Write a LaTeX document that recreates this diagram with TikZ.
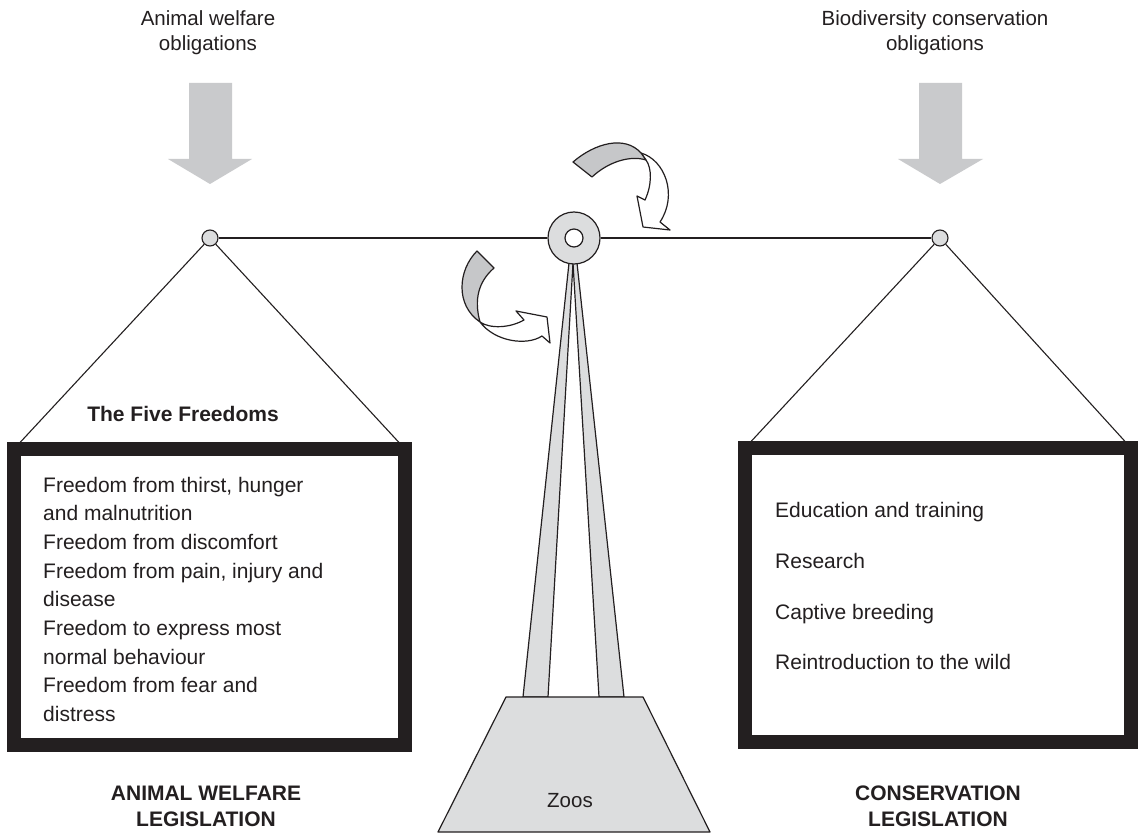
\documentclass[tikz,border=0pt]{standalone}
\usepackage{fontspec}
\setmainfont{Liberation Sans}
\definecolor{ink}{HTML}{231F20}
\definecolor{arrowgray}{HTML}{C9CACC}
\definecolor{partgray}{HTML}{DCDDDE}
\definecolor{ribbongray}{HTML}{C6C7C9}

\begin{document}
\begin{tikzpicture}[x=1pt, y=-1pt, line join=round,
  thinline/.style={draw=ink, line width=1.1pt},
  outline/.style={draw=ink, line width=1.2pt},
  hinge/.style={circle, draw=ink, line width=1.1pt, fill=partgray, minimum size=16pt, inner sep=0pt},
  panel/.style={rectangle, draw=ink, line width=14pt, line join=miter, fill=white, inner sep=0pt, outer sep=0pt, anchor=north west},
  body/.style={font=\fontsize{21}{25}\selectfont, text=ink, anchor=base west, inner sep=0pt},
  heading/.style={font=\bfseries\fontsize{21}{25}\selectfont, text=ink, anchor=base, inner sep=0pt},
  caption/.style={font=\fontsize{20.5}{25}\selectfont, text=ink, anchor=base, inner sep=0pt},
  load/.style={fill=arrowgray},
]
\useasboundingbox[fill=white] (0,0) rectangle (1138,834);

% weights pressing on the two pans
\fill[load] (189,83) -- (232,83) -- (232,159) -- (252,159) -- (210,184) -- (168,159) -- (189,159) -- cycle;
\fill[load] (919,83) -- (962,83) -- (962,159) -- (983,159) -- (940,184) -- (898,159) -- (919,159) -- cycle;

\node[caption] (lcap1) at (208,26) {Animal welfare};
\node[caption] (lcap2) at (208,51) {obligations};
\node[caption] (rcap1) at (935,26) {Biodiversity conservation};
\node[caption] (rcap2) at (935,51) {obligations};

% stand: two tapering legs on a trapezoid foot
\draw[outline, fill=partgray] (569,263) -- (573,263) -- (548,697) -- (523,697) -- cycle;
\draw[outline, fill=partgray] (573,263) -- (577,263) -- (624,697) -- (599,697) -- cycle;
\draw[outline, fill=partgray] (506,697) -- (643,697) -- (710,832) -- (438,832) -- cycle;
\node[caption] (zoos) at (570,807) {Zoos};

% the two pans
\node[panel, minimum width=391pt, minimum height=296pt] (lbox) at (14,449) {};
\node[panel, minimum width=386pt, minimum height=294pt] (rbox) at (745,448) {};

\node[heading] (five) at (183,421.5) {The Five Freedoms};

\node[body] (f1) at (43,492.0) {Freedom from thirst, hunger};
\node[body] (f2) at (43,520.7) {and malnutrition};
\node[body] (f3) at (43,549.4) {Freedom from discomfort};
\node[body] (f4) at (43,578.1) {Freedom from pain, injury and};
\node[body] (f5) at (43,606.8) {disease};
\node[body] (f6) at (43,635.5) {Freedom to express most};
\node[body] (f7) at (43,664.2) {normal behaviour};
\node[body] (f8) at (43,692.9) {Freedom from fear and};
\node[body] (f9) at (43,721.6) {distress};

\node[body] (c1) at (775,517.5) {Education and training};
\node[body] (c2) at (775,568) {Research};
\node[body] (c3) at (775,619) {Captive breeding};
\node[body] (c4) at (775,669.5) {Reintroduction to the wild};

\node[heading] (lleg1) at (206,800) {ANIMAL WELFARE};
\node[heading] (lleg2) at (206,826) {LEGISLATION};
\node[heading] (rleg1) at (938,800) {CONSERVATION};
\node[heading] (rleg2) at (938,826) {LEGISLATION};

% beam and hinges
\node[hinge] (lp) at (210,238) {};
\node[hinge] (rp) at (940,238) {};
\node[circle, draw=ink, line width=1.2pt, fill=partgray, minimum size=52pt, inner sep=0pt] (cp) at (574,238) {};
\node[circle, draw=ink, line width=1.2pt, fill=white, minimum size=18pt, inner sep=0pt] (hole) at (574,238) {};

\draw[thinline] (lp) -- (cp);
\draw[thinline] (cp) -- (rp);
\draw[thinline] (lp) -- (lbox.north west);
\draw[thinline] (lp) -- (lbox.north east);
\draw[thinline] (rp) -- (rbox.north west);
\draw[thinline] (rp) -- (rbox.north east);

% ribbon arrows around the pivot
\draw[outline, fill=white] (641,153) .. controls (665,160) and (678,195) .. (660,222) -- (670,230) -- (643,227) -- (637,196) -- (645,200) .. controls (652,185) and (652,168) .. (646,160) -- cycle;
\draw[outline, fill=ribbongray] (573,162) .. controls (595,143) and (625,135) .. (641,153) -- (646,160) .. controls (630,155) and (608,162) .. (592,177) -- cycle;

\draw[outline, fill=white] (480,322) .. controls (495,342) and (527,346) .. (542,336) -- (550,343) -- (547,317) -- (516,311) -- (524,320) .. controls (510,328) and (490,329) .. (480,322) -- cycle;
\draw[outline, fill=ribbongray] (477,251) .. controls (458,270) and (455,305) .. (480,322) .. controls (474,300) and (478,282) .. (494,268) -- cycle;
\end{tikzpicture}
\end{document}
